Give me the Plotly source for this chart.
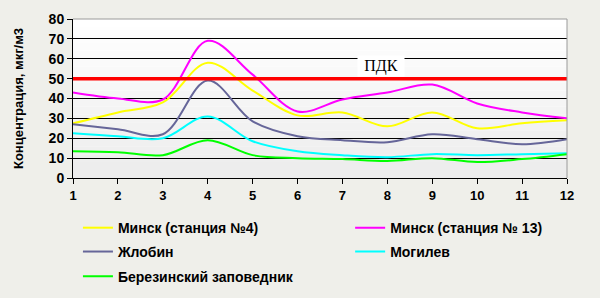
import plotly.graph_objects as go

months = [1, 2, 3, 4, 5, 6, 7, 8, 9, 10, 11, 12]
minsk4 = [27.5, 33, 38, 58, 44, 31.5, 33, 26, 33, 25, 27.5, 29]
minsk13 = [43, 40, 39.5, 69, 52, 33.5, 39.5, 43, 47, 37.5, 33, 30]
zhlobin = [27, 24.5, 22, 49, 28.5, 21, 19, 18, 22, 19.5, 17, 19.5]
mogilev = [22.5, 21, 20, 31, 18.5, 13.5, 11.5, 10.5, 12, 11.5, 12, 12.5]
berezinsky = [13.5, 13, 11.5, 19, 11.5, 10, 9.5, 8.5, 10, 8, 9.5, 12]
pdk_value = 50
pdk_label = "ПДК"

series = [
    ("Минск (станция №4)", minsk4, "#ffff00"),
    ("Минск (станция № 13)", minsk13, "#ff00ff"),
    ("Жлобин", zhlobin, "#666699"),
    ("Могилев", mogilev, "#00ffff"),
    ("Березинский заповедник", berezinsky, "#00ff00"),
]
# legend slot (column, row) for each series, in series order
legend_slots = [(0, 0), (1, 0), (0, 1), (1, 1), (0, 2)]

fig = go.Figure()
for i, (name, vals, color) in enumerate(series):
    lg = "legend" if i == 0 else f"legend{i + 1}"
    fig.add_trace(go.Scatter(
        x=months, y=vals, name=name, mode="lines",
        line=dict(color=color, width=2, shape="spline", smoothing=1.0),
        legend=lg, hoverinfo="skip",
    ))

# gradient background of the plot area (white at top -> light grey at bottom)
nb = 20
for i in range(nb):
    f = i / (nb - 1)
    c = int(round(236 + (255 - 236) * f))
    fig.add_shape(type="rect", xref="x domain", yref="y domain",
                  x0=0, x1=1, y0=i / nb, y1=(i + 1) / nb,
                  fillcolor=f"rgb({c},{c},{c})", line_width=0, layer="below")

# PDK limit line
fig.add_shape(type="line", xref="x domain", yref="y", x0=0, x1=1,
              y0=pdk_value, y1=pdk_value, line=dict(color="#ff0000", width=3.5),
              layer="above")
# plot border (top & right)
fig.add_shape(type="line", xref="x domain", yref="y domain", x0=0, x1=1, y0=1, y1=1,
              line=dict(color="#9a9a9a", width=1), layer="above")
fig.add_shape(type="line", xref="x domain", yref="y domain", x0=1, x1=1, y0=0, y1=1,
              line=dict(color="#9a9a9a", width=1), layer="above")

fig.add_annotation(x=7.85, y=56.5, xref="x", yref="y", text=pdk_label, showarrow=False,
                   font=dict(family="Liberation Serif", size=16, color="black"),
                   bgcolor="white", borderpad=1, width=44)

xtickfont = dict(family="Liberation Sans", size=13, color="black", weight="bold")
ytickfont = dict(family="Liberation Sans", size=14, color="black", weight="bold")
legfont = dict(family="Liberation Sans", size=14, color="black", weight="bold")

col_x = [0.010, 0.561]
row_y = [-0.315, -0.465, -0.62]
legends = {}
for i, (c, r) in enumerate(legend_slots):
    key = "legend" if i == 0 else f"legend{i + 1}"
    legends[key] = dict(orientation="h", x=col_x[c], xanchor="left",
                        y=row_y[r], yanchor="middle", font=legfont,
                        bgcolor="rgba(0,0,0,0)", itemclick=False,
                        itemdoubleclick=False)

fig.update_layout(
    width=600, height=298,
    margin=dict(l=73, r=33, t=19, b=120, autoexpand=False),
    paper_bgcolor="#efefea",
    plot_bgcolor="white",
    showlegend=True,
    xaxis=dict(range=[1, 12], tickvals=months, ticks="outside", ticklen=5,
               tickcolor="black", showline=True, linecolor="black", linewidth=1,
               showgrid=False, zeroline=False, tickfont=xtickfont),
    yaxis=dict(range=[0, 80], dtick=10, ticks="outside", ticklen=5,
               tickcolor="black", showline=True, linecolor="black", linewidth=1,
               showgrid=True, gridcolor="black", gridwidth=1, zeroline=False,
               tickfont=ytickfont,
               title=dict(text="Концентрация, мкг/м3", standoff=22,
                          font=dict(family="Liberation Sans", size=13, color="black",
                                    weight="bold"))),
    **legends,
)

fig.write_html("out.html")
